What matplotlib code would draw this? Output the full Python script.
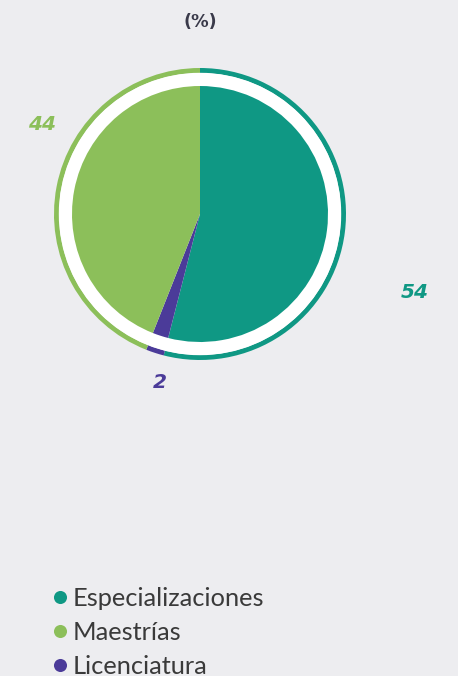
import matplotlib
matplotlib.use("Agg")
import matplotlib.pyplot as plt
from matplotlib.lines import Line2D
from matplotlib.patches import Circle

# Data
pie_labels = ["Especializaciones", "Licenciatura", "Maestrías"]
pie_values = [54, 2, 44]
pie_colors = ["#0F9884", "#4B3B99", "#8CBF5A"]
legend_order = ["Especializaciones", "Maestrías", "Licenciatura"]
title = "(%)"

W, H = 458, 676
fig = plt.figure(figsize=(W / 100, H / 100), dpi=100)
bg = "#EDEDF0"
fig.patch.set_facecolor(bg)
ax = fig.add_axes([0, 0, 1, 1])
ax.set_facecolor(bg)

cx, cy = 200, H - 214

# outer ring
ax.pie(pie_values, colors=pie_colors, startangle=90, counterclock=False,
       radius=146, center=(cx, cy), wedgeprops=dict(width=5, linewidth=0),
       frame=True)
# white gap
ax.add_patch(Circle((cx, cy), 141.2, facecolor="white", edgecolor="none", zorder=1.5))
# inner pie
wedges, _ = ax.pie(pie_values, colors=pie_colors, startangle=90, counterclock=False,
                   radius=128, center=(cx, cy), wedgeprops=dict(linewidth=0),
                   frame=True)
for w in wedges:
    w.set_zorder(2)
ax.set_xlim(0, W)
ax.set_ylim(0, H)
ax.set_aspect("equal")
ax.axis("off")

lab_font = dict(fontfamily="DejaVu Sans", fontsize=14.5, fontweight="bold",
                fontstyle="oblique", ha="center", va="center")
label_pos = {"Especializaciones": (415, H - 292),
             "Licenciatura": (160, H - 383),
             "Maestrías": (42, H - 125)}
for lbl, v, c in zip(pie_labels, pie_values, pie_colors):
    x, y = label_pos[lbl]
    ax.text(x, y, str(v), color=c, **lab_font)

ax.text(200, H - 22, title, fontfamily="DejaVu Sans", fontsize=12.7, fontweight="bold",
        color="#3A3A4A", ha="center", va="center")

color_map = dict(zip(pie_labels, pie_colors))
handles = [Line2D([0], [0], marker="o", linestyle="none", markersize=9.4,
                  markerfacecolor=color_map[l], markeredgewidth=0) for l in legend_order]
leg = ax.legend(handles, legend_order, loc="upper left",
                bbox_to_anchor=(47 / W, 1 - 587 / H), frameon=False,
                prop=dict(family="Lato", size=18.3, weight="normal"), labelspacing=0.44,
                handletextpad=0.0, handlelength=1.0, borderaxespad=0, borderpad=0)
for t in leg.get_texts():
    t.set_color("#3A3A3A")

fig.savefig("out.png", dpi=100, facecolor=bg)
